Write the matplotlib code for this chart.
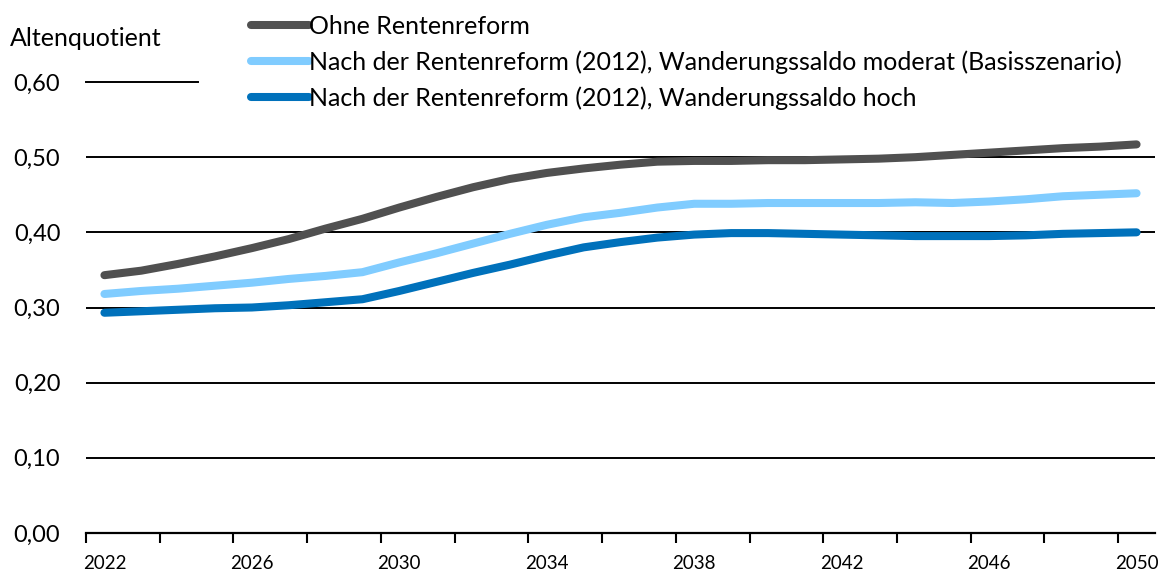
import numpy as np
import matplotlib
matplotlib.use('Agg')
import matplotlib.pyplot as plt
from matplotlib.ticker import FuncFormatter

plt.rcParams['font.family'] = ['Lato', 'DejaVu Sans']

years = list(range(2022, 2051))

ohne_reform = [0.343, 0.349, 0.358, 0.368, 0.379, 0.391, 0.405, 0.418, 0.433, 0.447,
               0.460, 0.471, 0.479, 0.485, 0.490, 0.494, 0.495, 0.495, 0.496, 0.496,
               0.497, 0.498, 0.500, 0.503, 0.506, 0.509, 0.512, 0.514, 0.517]
moderat = [0.318, 0.322, 0.325, 0.329, 0.333, 0.338, 0.342, 0.347, 0.360, 0.372,
           0.385, 0.398, 0.410, 0.420, 0.426, 0.433, 0.438, 0.438, 0.439, 0.439,
           0.439, 0.439, 0.440, 0.439, 0.441, 0.444, 0.448, 0.450, 0.452]
hoch = [0.293, 0.295, 0.297, 0.299, 0.300, 0.303, 0.307, 0.311, 0.322, 0.334,
        0.346, 0.357, 0.369, 0.380, 0.387, 0.393, 0.397, 0.399, 0.399, 0.398,
        0.397, 0.396, 0.395, 0.395, 0.395, 0.396, 0.398, 0.399, 0.400]

labels = ['Ohne Rentenreform',
          'Nach der Rentenreform (2012), Wanderungssaldo moderat (Basisszenario)',
          'Nach der Rentenreform (2012), Wanderungssaldo hoch']
colors = ['#505050', '#80CCFF', '#0071BB']
y_ticks = [0.0, 0.1, 0.2, 0.3, 0.4, 0.5, 0.6]
x_labels = [2022, 2026, 2030, 2034, 2038, 2042, 2046, 2050]

W, H = 1160, 572
fig = plt.figure(figsize=(W / 100, H / 100), dpi=100)
left, right, top, bottom = 86, 1155, 82, 533
ax = fig.add_axes([left / W, (H - bottom) / H, (right - left) / W, (bottom - top) / H])

lw = 5.8
for vals, lab, col in zip([ohne_reform, moderat, hoch], labels, colors):
    ax.plot(years, vals, color=col, lw=lw, solid_capstyle='round', label=lab, zorder=3)

ax.set_xlim(2021.5, 2050.5)
ax.set_ylim(0, 0.6)

for s in ['top', 'right', 'left']:
    ax.spines[s].set_visible(False)
ax.spines['bottom'].set_linewidth(1.6)
ax.spines['bottom'].set_color('black')

ax.set_yticks(y_ticks)
ax.yaxis.set_major_formatter(FuncFormatter(lambda v, p: f'{v:.2f}'.replace('.', ',')))
ax.tick_params(axis='y', length=0, pad=18.5, labelsize=17)
for v in y_ticks[1:-1]:
    ax.axhline(v, color='black', lw=1.4, zorder=1)
ax.axhline(0.6, xmin=0, xmax=(198 - left) / (right - left), color='black', lw=1.4, clip_on=False)

ax.set_xticks(x_labels)
ax.set_xticklabels([str(x) for x in x_labels])
ax.set_xticks(np.arange(2021.5, 2050, 2), minor=True)
ax.tick_params(axis='x', which='major', length=0, pad=15.5, labelsize=13.5)
ax.tick_params(axis='x', which='minor', length=7, width=1.5, direction='out')

fig.text(10 / W, 1 - 38 / H, 'Altenquotient', fontsize=18, va='center', ha='left')

fs = 18
fs_px = fs * 100 / 72
leg = ax.legend(loc='upper left', bbox_to_anchor=(234 / W, 1 + 3 / H), bbox_transform=fig.transFigure,
                fontsize=fs, frameon=True, fancybox=False, borderpad=0.2,
                handlelength=57 / fs_px, handletextpad=0.5 / fs_px, labelspacing=(36 - 0.93 * fs_px) / fs_px)
leg.get_frame().set_edgecolor('none')
leg.get_frame().set_facecolor('white')
leg.get_frame().set_alpha(1)
for line in leg.get_lines():
    line.set_linewidth(lw)

fig.savefig('out.png', dpi=100)
